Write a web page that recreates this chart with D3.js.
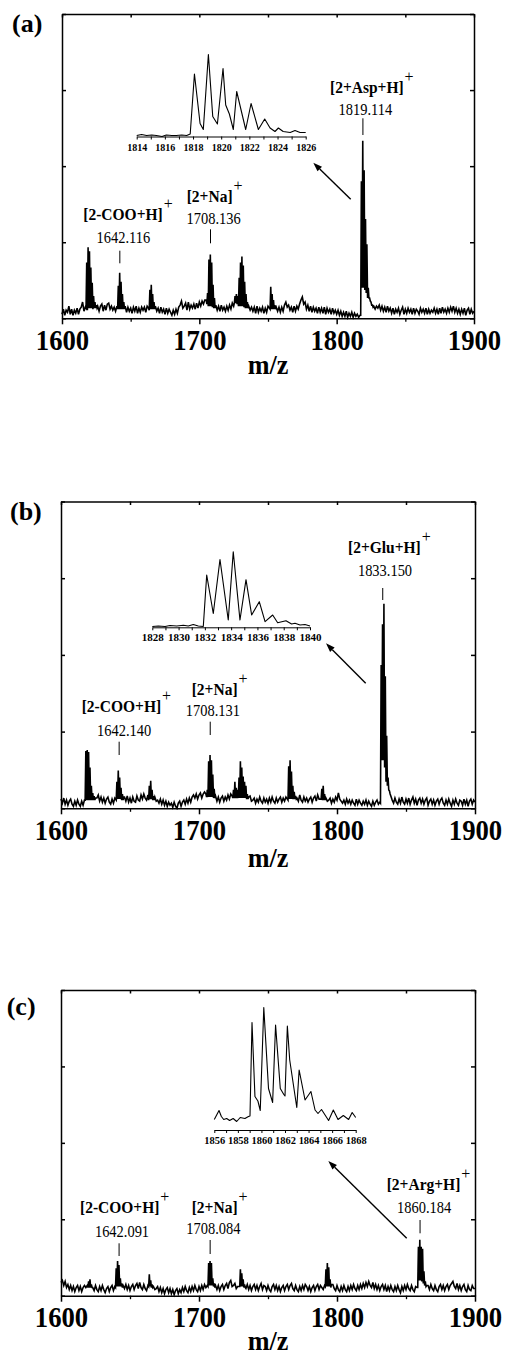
<!DOCTYPE html>
<html><head><meta charset="utf-8">
<script src="https://cdn.jsdelivr.net/npm/d3@7"></script>
<style>
body{margin:0;background:#fff}
svg{display:block}
text{font-family:"Liberation Serif","Times New Roman",Times,serif;fill:#000}
</style>
</head><body>
<svg id="chart" width="507" height="1355"></svg>
<script>
// ---------- DATA ----------
const mzTicks = [1600, 1700, 1800, 1900];
const mzMinorTicks = [1650, 1750, 1850];
const yTicks = [0, 75, 150, 225, 300];
const baseStartMz = 1600; // baseline intensities, one value per 1 Da from 1600 to 1900

const baseA = [
4,9,3,8,6,12,4,9,3,8, 5,10,4,9,11,16,7,11,10,10, 10,10,10,10,10,10,12,7,12,14,
7,13,8,14,15,9,12,8,11,7, 10,10,10,10,10,10,10,6,11,7, 10,5,11,7,12,5,10,6,11,8,
11,6,12,10,10,10,10,10,10,7, 10,5,11,6,9,4,10,5,9,6, 3,8,4,9,5,11,13,17,10,12,
15,8,16,9,13,10,14,9,15,10, 16,12,17,14,18,18,18,18,18,18, 13,9,13,8,12,7,13,8,11,7,
12,8,13,9,15,18,18,18,18,18, 18,18,18,18,18,18,13,8,11,7, 11,5,12,6,10,7,11,5,10,6,
12,10,10,10,10,10,12,7,11,6, 11,7,13,16,11,13,8,11,6,12, 7,12,9,14,18,21,14,16,9,13,
7,12,6,11,7,10,5,11,6,10, 5,11,4,10,6,9,4,10,5,8, 4,8,3,7,2,6,2,7,1,5,
2,6,1,5,2,4,1,3,3,3, 3,3,3,3,3,3,12,14,9,12, 10,13,8,12,7,11,6,12,7,10,
5,10,4,9,6,10,4,8,11,4, 9,5,10,6,9,4,10,5,9,7, 4,10,6,9,5,10,4,9,5,8,
6,10,5,9,4,10,5,11,6,9, 5,10,6,11,7,12,6,10,5,9, 4,9,5,10,3,8,10,4,9,5, 7];
// isotope clusters: [start m/z, intensities every 0.5 Da]
const clustersA = [
[1617.5,[10,55,8,70,10,66,10,50,10,35,9,22,10,16,10,13,10]],
[1640,[12,9,32,9,45,9,36,9,24,9,16,9,12]],
[1663,[10,8,28,9,33,9,24,9,16,9,12]],
[1705,[18,14,25,12,58,12,63,12,55,11,33,10,20,10,13]],
[1725,[12,15,22,15,24,14,22,12,40,12,55,12,61,12,52,11,36,10,24,10,16,10,12]],
[1751,[10,9,31,9,24,9,18,9,13,9,11]],
[1817.5,[3,135,30,175,30,146,28,98,25,73,20,30,20,20,17,16,13,13,11,12]]];
const insetA = [[1814,0],[1814.35,1],[1814.7,0],[1815.07,0.5],[1815.4,0],[1815.8,-1],[1816.1,0.5],[1816.5,0],[1816.8,0],[1817.2,0.5],[1817.55,0],[1817.8,1.5],[1818.1,61.5],[1818.5,12],[1818.73,6],[1819.09,81],[1819.4,19],[1819.73,11.5],[1820.13,67],[1820.32,30.5],[1820.58,21.5],[1820.86,6],[1821.1,44],[1821.74,6],[1822.12,32],[1822.64,6],[1823.09,16.5],[1823.47,7.5],[1823.82,4],[1824.06,7.5],[1824.4,4],[1824.9,3],[1825.24,5],[1825.6,3],[1826,3]];
const insetTicksA = [1814,1816,1818,1820,1822,1824,1826];
const namesA = ['[2-COO+H]','[2+Na]','[2+Asp+H]'];
const valuesA = ['1642.116','1708.136','1819.114'];
const peakMzA = [1642.116,1708.136,1819.114];

const baseB = [
9,5,10,4,8,3,7,9,4,2, 7,3,8,4,2,7,3,8,8,8, 8,8,8,8,8,8,10,13,7,11,
6,10,5,9,11,6,4,9,5,10, 9,9,9,9,9,9,11,7,12,6, 10,5,11,7,6,12,8,7,13,9,
14,10,8,13,9,9,9,9,11,7, 8,5,9,4,8,3,7,2,6,3, 5,1,6,2,0,5,7,2,6,8,
4,9,5,10,6,11,13,10,14,9, 13,15,10,14,16,14,14,14,14,14, 14,14,11,7,11,6,10,12,7,11,
8,13,9,14,12,12,12,12,12,12, 12,12,12,12,12,12,10,12,7,8, 10,5,9,6,11,7,5,10,6,9,
5,10,6,11,7,5,10,6,9,11, 6,10,7,11,9,9,9,9,9,9, 9,12,7,13,8,6,11,7,10,6,
9,11,6,10,12,7,13,9,9,9, 9,9,11,7,8,10,5,9,6,11, 8,15,9,7,5,8,4,9,5,8,
4,8,5,3,9,4,8,5,3,7, 4,8,3,7,4,2,7,3,6,8, 4,6,6,6,6,6,6,6,6,6,
9,5,10,6,4,9,5,11,6,4, 9,5,10,4,8,11,5,9,3,8, 10,5,9,4,8,10,3,7,9,4,
8,3,7,9,4,8,10,5,3,8, 4,9,5,2,8,4,9,5,3,8, 7,3,9,4,8,2,7,9,4,8, 6];
const clustersB = [
[1617.5,[8,56,8,57,8,55,8,40,8,22,8,15,8,12,8,10]],
[1640,[8,26,9,37,9,30,9,20,8,14,8,11]],
[1663.5,[8,22,9,27,9,18,8,12,8]],
[1705,[14,11,18,11,46,11,52,11,47,11,33,10,19,10,12]],
[1724,[12,10,18,10,26,10,20,10,18,10,30,10,46,10,40,10,31,10,26,10,22,9,14,9,11]],
[1764.5,[8,41,9,47,9,36,9,22,9,16,9,12,9,10]],
[1788.5,[9,19,8,22,8,14,8,10]],
[1831.5,[5,140,47,180,47,200,40,129,26,71,22,30,18,17,14,12,10,8]]];
const insetB = [[1828,0],[1828.46,0.5],[1828.97,0],[1829.35,1],[1829.86,0.5],[1830.36,1.2],[1830.74,0.5],[1831.12,2],[1831.5,0.5],[1831.88,0],[1832.14,51.5],[1832.64,13],[1833.15,67],[1833.78,6.5],[1834.16,74.8],[1834.67,6.5],[1835.13,46.8],[1835.56,11.5],[1836.14,24.8],[1836.58,4.8],[1837.16,11.5],[1837.54,3.8],[1838.17,5.8],[1838.6,2.5],[1838.86,3.2],[1839.24,1.5],[1839.62,2],[1840,0.5]];
const insetTicksB = [1828,1830,1832,1834,1836,1838,1840];
const namesB = ['[2-COO+H]','[2+Na]','[2+Glu+H]'];
const valuesB = ['1642.140','1708.131','1833.150'];
const peakMzB = [1642.140,1708.131,1833.150];

const baseC = [
13,15,10,14,8,11,6,10,5,9, 4,8,10,5,9,4,8,10,8,10, 14,15,10,8,5,10,6,4,9,5,
10,6,3,7,9,4,8,10,5,9, 9,9,9,9,9,9,7,11,6,10, 5,9,11,6,10,12,7,13,8,6,
11,7,5,10,9,9,9,9,6,7, 9,4,8,3,7,2,6,8,3,7, 2,6,1,5,7,2,6,3,8,4,
9,5,3,8,4,9,5,10,6,4, 9,5,10,6,11,8,10,10,10,10, 10,10,10,6,10,5,9,11,6,10,
12,7,13,15,9,10,12,7,9,9, 9,9,9,9,7,11,6,10,5,9, 11,6,10,5,9,12,6,10,9,5,
10,6,4,9,11,6,10,5,9,4, 8,10,5,9,11,6,10,12,7,5, 10,6,4,9,5,10,6,11,9,5,
9,4,8,10,5,9,11,6,10,8, 6,10,9,9,9,9,9,11,7,5, 10,6,4,9,5,10,6,4,9,5,
10,6,11,7,5,10,6,11,7,12, 8,13,9,14,10,8,13,7,11,6, 10,5,9,11,6,10,4,9,5,10,
6,4,9,5,10,6,3,9,5,10, 6,11,7,5,10,6,4,9,8,8, 8,8,8,8,8,8,10,6,11,7,
5,10,6,4,9,11,6,10,5,9, 11,6,10,12,14,9,7,12,6,10, 5,9,11,6,4,10,6,5,10,7, 7];
const clustersC = [
[1619.5,[8,14,8,16,8,11,8]],
[1639.5,[8,27,9,34,9,30,9,17,9,12,8,10]],
[1663.5,[9,21,9,15,8,11,8]],
[1706.5,[9,32,10,34,10,32,10,17,9,12,8,10]],
[1729.5,[9,26,9,22,9,16,8,11,8]],
[1791.5,[9,26,9,32,9,28,9,16,8,11]],
[1858.5,[8,48,15,55,15,48,14,46,12,24,10,14,9,10]]];
const insetC = [[1856,0],[1856.2,4.5],[1856.4,9],[1856.6,3],[1856.8,0],[1857.05,1],[1857.3,-1],[1857.6,1],[1857.9,-2],[1858.2,2],[1858.6,1],[1858.9,3],[1859.03,3.5],[1859.2,97],[1859.45,23],[1859.7,18.5],[1859.9,9],[1860.2,112],[1860.6,31],[1860.95,17],[1861.2,94.5],[1861.6,31],[1861.9,25],[1862,23.5],[1862.2,93.5],[1862.4,59.5],[1863,12],[1863.2,49.5],[1863.7,19.5],[1864.2,28],[1864.55,9.5],[1864.8,6],[1865.1,10],[1865.4,4.5],[1865.7,-1],[1866.1,9.5],[1866.5,0],[1866.95,4],[1867.4,0],[1867.7,7],[1868,2]];
const insetTicksC = [1856,1858,1860,1862,1864,1866,1868];
const namesC = ['[2-COO+H]','[2+Na]','[2+Arg+H]'];
const valuesC = ['1642.091','1708.084','1860.184'];
const peakMzC = [1642.091,1708.084,1860.184];

// ---------- LAYOUT ----------
const panels = [
 {letter:'(a)', base:baseA, clusters:clustersA, inset:insetA, insetTicks:insetTicksA, names:namesA, values:valuesA, peakMz:peakMzA,
  box:{l:62,r:474,t:14,b:318.3}, letterPos:[12,31.5], mzY:374,
  insetBox:{l:136.7,r:305.7,axisY:136.5,zeroY:135.5,sx:0.91},
  arrow:[350.7,199.3,313.3,162.7],
  ann:[{bx:83.3,by:220,nx:123.3,ny:243.3,t1:250.7,t2:263.3},
       {bx:186.7,by:201.7,nx:213.7,ny:224.3,t1:229.3,t2:243.3},
       {bx:330,by:93.3,nx:365.3,ny:115,t1:118.3,t2:135}]},
 {letter:'(b)', base:baseB, clusters:clustersB, inset:insetB, insetTicks:insetTicksB, names:namesB, values:valuesB, peakMz:peakMzB,
  box:{l:61,r:475,t:501.5,b:808.3}, letterPos:[10,519.5], mzY:866.5,
  insetBox:{l:152.3,r:310,axisY:627.3,zeroY:626.5,sx:1.0},
  arrow:[365.7,683.3,326,643.3],
  ann:[{bx:81.7,by:711.7,nx:124.2,ny:736,t1:741.7,t2:755},
       {bx:191.7,by:695,nx:212.9,ny:716,t1:721.7,t2:735},
       {bx:348,by:553.3,nx:385,ny:576,t1:588,t2:600}]},
 {letter:'(c)', base:baseC, clusters:clustersC, inset:insetC, insetTicks:insetTicksC, names:namesC, values:valuesC, peakMz:peakMzC,
  box:{l:61,r:475,t:990,b:1295.7}, letterPos:[6.7,1014.5], mzY:1350,
  insetBox:{l:214.3,r:355.7,axisY:1130,zeroY:1119.5,sx:0.95},
  arrow:[406.7,1238.3,328.3,1161],
  ann:[{bx:80,by:1213.3,nx:122,ny:1236.7,t1:1243.3,t2:1256},
       {bx:191.7,by:1213.3,nx:213.4,ny:1234.3,t1:1240,t2:1254},
       {bx:386.7,by:1190,nx:424.2,ny:1213.3,t1:1220,t2:1233.3}]}
];

// ---------- DRAW ----------
const svg = d3.select('#chart');

function buildSeries(base, clusters){
  const ranges = clusters.map(([s,v]) => [s, s + 0.5*(v.length-1)]);
  const pts = [];
  base.forEach((v,i) => {
    const mz = baseStartMz + i;
    if (!ranges.some(([a,b]) => mz >= a && mz <= b)) pts.push([mz, v]);
  });
  clusters.forEach(([s,v]) => v.forEach((val,j) => pts.push([s + 0.5*j, val])));
  pts.sort((a,b) => a[0]-b[0]);
  return pts;
}

function txt(g, x, y, s, o){
  return g.append('text')
    .attr('transform', `translate(${x},${y}) scale(${o.sx||1},1)`)
    .attr('text-anchor', o.anchor||'start')
    .attr('font-size', o.size)
    .attr('font-weight', o.weight||'normal')
    .text(s);
}

function styleAxis(sel, w){
  sel.attr('font-family', null).attr('font-size', null);
  sel.selectAll('path,line').attr('stroke','#000').attr('stroke-width', w);
}

panels.forEach(p => {
  const g = svg.append('g');
  const x = d3.scaleLinear().domain([1600,1900]).range([p.box.l, p.box.r]);
  const y = d3.scaleLinear().domain([0,300]).range([p.box.b, p.box.t]);

  // spectrum trace
  const pts = buildSeries(p.base, p.clusters);
  g.append('path').datum(pts)
    .attr('fill','none').attr('stroke','#000').attr('stroke-width',1.6).attr('stroke-linejoin','miter')
    .attr('d', d3.line().x(d => x(d[0])).y(d => y(d[1])));

  // axes
  const bottom = g.append('g').attr('transform',`translate(0,${p.box.b})`)
    .call(d3.axisBottom(x).tickValues(mzTicks).tickSize(6).tickSizeOuter(0).tickFormat(d3.format('d')));
  styleAxis(bottom, 1.5);
  bottom.selectAll('text').attr('y', null).attr('dy', null)
    .attr('transform','translate(0,31.7) scale(0.89,1)')
    .attr('font-size', 30).attr('font-weight','bold').attr('fill','#000');
  const bottomMinor = g.append('g').attr('transform',`translate(0,${p.box.b})`)
    .call(d3.axisBottom(x).tickValues(mzMinorTicks).tickSize(3.5).tickFormat(''));
  bottomMinor.select('.domain').remove(); styleAxis(bottomMinor, 1.3);

  const top = g.append('g').attr('transform',`translate(0,${p.box.t})`)
    .call(d3.axisTop(x).tickValues(mzTicks.concat(mzMinorTicks)).tickSize(-3.5).tickSizeOuter(0).tickFormat(''));
  styleAxis(top, 1.5);
  const left = g.append('g').attr('transform',`translate(${p.box.l},0)`)
    .call(d3.axisLeft(y).tickValues(yTicks).tickSize(-4).tickSizeOuter(0).tickFormat(''));
  styleAxis(left, 1.5);
  const right = g.append('g').attr('transform',`translate(${p.box.r},0)`)
    .call(d3.axisRight(y).tickValues(yTicks).tickSize(-4).tickSizeOuter(0).tickFormat(''));
  styleAxis(right, 1.5);

  // axis title and panel letter
  txt(g, (p.box.l+p.box.r)/2, p.mzY, 'm/z', {anchor:'middle', size:27, weight:'bold', sx:0.97});
  txt(g, p.letterPos[0], p.letterPos[1], p.letter, {size:26, weight:'bold'});

  // peak annotations
  p.ann.forEach((a,i) => {
    const t = g.append('text')
      .attr('transform', `translate(${a.bx},${a.by}) scale(0.94,1)`)
      .attr('font-size', 16.5).attr('font-weight','bold');
    t.append('tspan').text(p.names[i]);
    t.append('tspan').attr('dx', 1).attr('dy', -11).attr('font-weight','normal').attr('font-size', 17).text('+');
    txt(g, a.nx, a.ny, p.values[i], {anchor:'middle', size:17, sx:0.85});
    const tx = x(p.peakMz[i]);
    g.append('line').attr('x1',tx).attr('x2',tx).attr('y1',a.t1).attr('y2',a.t2)
      .attr('stroke','#000').attr('stroke-width',1);
  });

  // arrow
  const [x1,y1,x2,y2] = p.arrow;
  const ang = Math.atan2(y2-y1, x2-x1), L = 9, W = 3.2;
  const hx = x2 - L*Math.cos(ang), hy = y2 - L*Math.sin(ang);
  g.append('line').attr('x1',x1).attr('y1',y1).attr('x2',hx).attr('y2',hy)
    .attr('stroke','#000').attr('stroke-width',1.4);
  g.append('polygon').attr('fill','#000')
    .attr('points', [[x2,y2],[hx + W*Math.sin(ang), hy - W*Math.cos(ang)],[hx - W*Math.sin(ang), hy + W*Math.cos(ang)]].map(q=>q.join(',')).join(' '));

  // inset
  const ib = p.insetBox;
  const dom = [p.insetTicks[0], p.insetTicks[p.insetTicks.length-1]];
  const xi = d3.scaleLinear().domain(dom).range([ib.l, ib.r]);
  const yi = d3.scaleLinear().domain([0,100]).range([ib.zeroY, ib.zeroY-100]);
  g.append('path').datum(p.inset)
    .attr('fill','none').attr('stroke','#000').attr('stroke-width',1.1).attr('stroke-linejoin','round')
    .attr('d', d3.line().x(d => xi(d[0])).y(d => yi(d[1])));
  const ia = g.append('g').attr('transform',`translate(0,${ib.axisY})`)
    .call(d3.axisBottom(xi).tickValues(p.insetTicks).tickSize(3).tickSizeOuter(0).tickFormat(d3.format('d')));
  styleAxis(ia, 1);
  ia.selectAll('text').attr('y', null).attr('dy', null)
    .attr('transform',`translate(0,14) scale(${ib.sx},1)`)
    .attr('font-size', 11).attr('font-weight','bold').attr('fill','#000');
  const iaMinor = g.append('g').attr('transform',`translate(0,${ib.axisY})`)
    .call(d3.axisBottom(xi).tickValues(d3.range(dom[0]+1, dom[1], 2)).tickSize(3).tickFormat(''));
  iaMinor.select('.domain').remove(); styleAxis(iaMinor, 1);
});
</script>
</body></html>
